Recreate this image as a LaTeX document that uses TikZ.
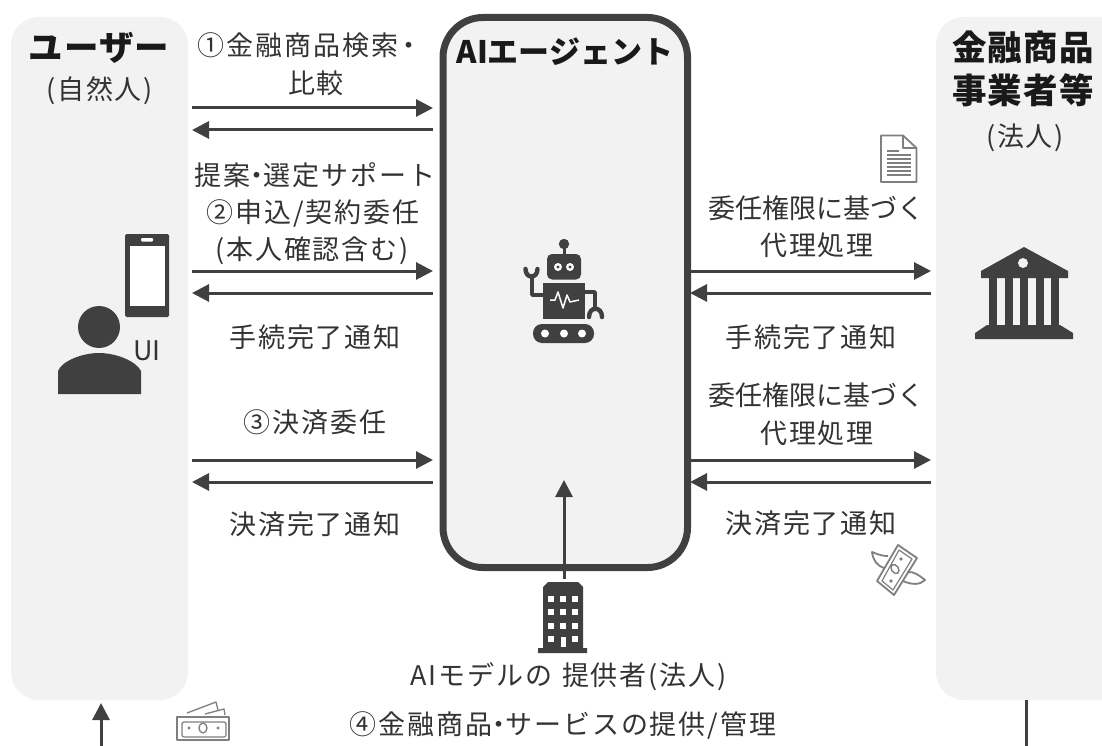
\documentclass[tikz,border=0pt]{standalone}
\usepackage{fontspec}
\setmainfont{Noto Sans CJK JP}
\usetikzlibrary{arrows.meta}
\definecolor{dark}{HTML}{404040}
\definecolor{panelgray}{HTML}{F2F2F2}
\definecolor{icongray}{HTML}{7F7F7F}
\newcommand{\midot}{\hspace{-7pt}・\hspace{-7pt}}
\tikzset{
  panel/.style={shape=rectangle,fill=panelgray,rounded corners=28pt,inner sep=0pt},
  flow/.style={-{Triangle[length=17pt,width=17pt]},line width=3pt,dark},
  txt/.style={inner sep=0pt,font=\fontsize{27}{32}\selectfont\addfontfeature{LetterSpace=7},text=black!80},
  tighttxt/.style={inner sep=0pt,font=\fontsize{27}{32}\selectfont,text=black!80},
  head/.style={inner sep=0pt,font=\fontsize{34.5}{40}\selectfont\bfseries\addfontfeature{LetterSpace=3},text=black!90},
  agenthead/.style={inner sep=0pt,font=\fontsize{31}{36}\selectfont\bfseries,text=black!90},
  solid icon/.style={fill=dark,draw=none},
  thin icon/.style={draw=icongray,line width=1.8pt,fill=none,line join=round}
}
\begin{document}
\begin{tikzpicture}[x=1pt,y=-1pt]
\clip (0,0) rectangle (1102,746);
\fill[white] (0,0) rectangle (1102,746);

% panels
\node(user) at (99.5,358.5)[panel,minimum width=177pt,minimum height=683pt]{};
\node(firm) at (1040,358.5)[panel,minimum width=208pt,minimum height=683pt]{};
\node(agent) at (565.25,292.5)[panel,draw=dark,line width=7pt,rounded corners=40pt,minimum width=244.5pt,minimum height=550pt]{};

% titles
\node(userttl) at (99,48)[head]{ユーザー};
\node(userkind) at (99.5,91)[txt]{(自然人)};
\node(agentttl) at (565,51.5)[agenthead]{AIエージェント};
\node(firmttl1) at (1023,47)[head]{金融商品};
\node(firmttl2) at (1023,90)[head]{事業者等};
\node(firmkind) at (1025,138)[txt]{(法人)};
\node(uilabel) at (147,351)[inner sep=0pt,font=\fontsize{27}{32}\selectfont,text=black!80]{UI};

% labels left
\node(l1a) at (310,45)[txt]{①金融商品検索\hspace{-3pt}・\hspace{-9pt}};
\node(l1b) at (316,83)[txt]{比較};
\node(l2a) at (315,175)[txt]{提案\midot 選定サポート};
\node(l2b) at (313,213)[txt]{②申込/契約委任};
\node(l2c) at (312,251)[txt]{(本人確認含む)};
\node(l3) at (315,337)[txt]{手続完了通知};
\node(l4) at (315,422)[txt]{③決済委任};
\node(l5) at (315,524)[txt]{決済完了通知};

% labels right
\node(r1a) at (816,208)[tighttxt]{委任権限に基づく};
\node(r1b) at (817,245)[txt]{代理処理};
\node(r2) at (811,337)[txt]{手続完了通知};
\node(r3a) at (816,395)[tighttxt]{委任権限に基づく};
\node(r3b) at (817,433)[txt]{代理処理};
\node(r4) at (811,523)[txt]{決済完了通知};

% labels bottom
\node(model) at (568.5,677)[txt]{AIモデルの\hspace{10pt}提供者(法人)};
\node(service) at (563,725)[txt]{④金融商品\midot サービスの提供/管理};

% arrow ends
\foreach \n/\y in {a/108,b/130,c/271,d/293,e/460,f/482}{
  \coordinate(u\n) at (192,\y);
  \coordinate(m\n) at (433,\y);
}
\foreach \n/\y in {c/271,d/293,e/460,f/482}{
  \coordinate(p\n) at (690,\y);
  \coordinate(q\n) at (931,\y);
}
\coordinate(bldtop) at (564,579);
\coordinate(agentin) at (564,480);
\coordinate(paydown) at (101,746);
\coordinate(payup) at (101,703);
\coordinate(firmout) at (1026,700);
\coordinate(firmdown) at (1026,746);

\path [flow]
  (ua) edge (ma)
  (mb) edge (ub)
  (uc) edge (mc)
  (md) edge (ud)
  (ue) edge (me)
  (mf) edge (uf)
  (pc) edge (qc)
  (qd) edge (pd)
  (pe) edge (qe)
  (qf) edge (pf)
  (bldtop) edge (agentin)
  (paydown) edge (payup);
\draw[line width=3pt,dark] (firmout) -- (firmdown);

% phone
\fill[solid icon,rounded corners=1.5pt] (125,234) rectangle (169,317);
\fill[white] (130,246) rectangle (165,306);
\fill[white,rounded corners=1pt] (141,238) rectangle (153,241.5);

% person
\fill[solid icon] (99,327) circle (21);
\fill[solid icon] (58,394) -- (58,371) .. controls (62,361) and (82,353) .. (99,353) .. controls (116,353) and (136,361) .. (141,371) -- (141,394) -- cycle;

% robot
\draw[dark,line width=3pt] (564,244) -- (564,256);
\fill[solid icon] (564,244) circle (5.2);
\fill[solid icon,rounded corners=5pt] (547,254) rectangle (581,279.5);
\foreach \x in {558,570}{
  \fill[white] (\x,267) circle (4);
  \fill[solid icon] (\x,267) circle (1.6);
}
\fill[solid icon] (543,283) rectangle (585,319);
\draw[white,line width=1.5pt,line join=round] (550,300) -- (555,300) -- (558,292) -- (563,308) -- (567,295) -- (570,302) -- (579,300);
\draw[dark,line width=3.6pt,line join=round] (543,295) -- (532,295) -- (532,276);
\draw[dark,line width=4.4pt,line cap=round] (525.5,269) .. controls (525.5,279) and (537.5,279) .. (537.5,269);
\draw[dark,line width=3.6pt,line join=round] (585,292) -- (595,292) -- (595,310);
\draw[dark,line width=4.4pt,line cap=round] (589,317) .. controls (589,306) and (602,306) .. (602,317);
\fill[solid icon,rounded corners=9pt] (533,324) rectangle (594,343);
\foreach \x in {545,564,582}{
  \fill[white] (\x,333.5) circle (4);
}

% bank
\fill[solid icon] (1024,247) -- (1068,271) -- (1068,278) -- (981,278) -- (981,271) -- cycle;
\fill[panelgray] (1023,263) circle (5);
\foreach \x in {989,1005,1020,1036,1051}{
  \fill[solid icon] (\x,278) rectangle (\x+8,326);
}
\fill[solid icon] (987,325) -- (1060,325) -- (1073,333) -- (1073,339) -- (975,339) -- (975,333) -- cycle;

% building
\fill[solid icon] (548,582) -- (578,582) -- (583,587) -- (583,648) -- (587,648) -- (587,653) -- (538,653) -- (538,648) -- (543,648) -- (543,587) -- cycle;
\foreach \y in {599,612,626}{
  \foreach \x in {551,563,575}{
    \fill[white] (\x-2.6,\y-2.6) rectangle (\x+2.6,\y+2.6);
  }
}
\foreach \x in {551,575}{
  \fill[white] (\x-2.6,639-2.6) rectangle (\x+2.6,639+2.6);
}
\fill[white] (560.5,637) rectangle (565.5,647);

% document
\draw[thin icon] (881,135.5) -- (903,135.5) -- (916.5,148) -- (916.5,182) -- (881,182) -- cycle;
\draw[thin icon,line width=1.4pt] (903,135.5) -- (903,148) -- (916.5,148);
\draw[icongray,line width=1.6pt] (887,151) -- (899,151);
\foreach \y in {155,159,163,167,171,175}{
  \draw[icongray,line width=1.6pt] (887,\y) -- (911,\y);
}

% flying money
\draw[thin icon] (898,545) -- (917,558) -- (894,595) -- (877,581) -- cycle;
\draw[thin icon,line width=1.2pt] (899,550) -- (912,559) -- (893,590) -- (882,581) -- cycle;
\draw[thin icon,line width=1.4pt,rotate around={35:(895,569)}] (895,569) ellipse (3.5 and 5);
\fill[icongray] (901,559) circle (1.8);
\fill[icongray] (891,581) circle (1.8);
\draw[thin icon] (888,556) .. controls (880,556) and (875,553) .. (872,552) .. controls (873,560) and (877,566) .. (884,568);
\draw[thin icon] (907,572) .. controls (914,571) and (920,576) .. (925,580) .. controls (920,585) and (912,585) .. (903,581);

% cash
\draw[thin icon] (177,717) rectangle (229,740);
\draw[thin icon,line width=1.2pt,rounded corners=2pt] (182,722) rectangle (226,737);
\draw[thin icon,line width=1.3pt] (203,728) ellipse (4 and 5);
\fill[icongray] (189,728) circle (1.6);
\fill[icongray] (218,728) circle (1.6);
\draw[thin icon,line width=1.3pt] (187,713) -- (216,702) -- (218,710);
\draw[thin icon,line width=1.3pt] (205,714) -- (224,709) -- (225,715);

\end{tikzpicture}
\end{document}
